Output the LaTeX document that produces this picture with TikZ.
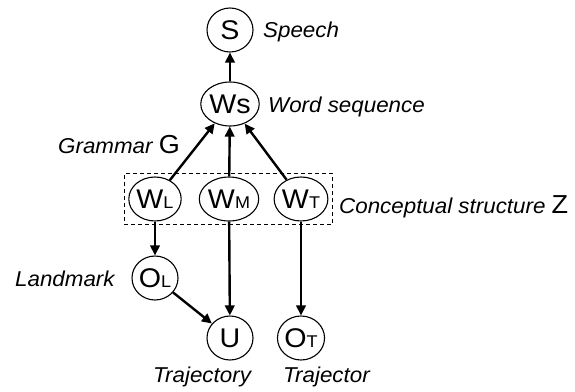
\documentclass[tikz,border=0pt]{standalone}
\usepackage{fontspec}
\setmainfont{Liberation Sans}
\newfontfamily\labfont[FakeStretch=1.04]{Liberation Sans}
\newfontfamily\ndfont[FakeStretch=1.06]{Liberation Sans}
\usetikzlibrary{shapes.geometric,arrows.meta,fit}
\newcommand\smallsub[1]{{\fontsize{17}{17}\selectfont #1}}
\tikzset{
  nd/.style={draw, line width=1.1pt, ellipse, minimum width=46pt, minimum height=44pt, inner sep=0pt,
    font=\ndfont\fontsize{27}{27}\selectfont},
  lbl/.style={anchor=base west, inner sep=0pt, font=\labfont\itshape\fontsize{21.5}{21.5}\selectfont},
  arr/.style={line width=2.4pt, -{Triangle[length=10pt,width=9.5pt]}},
  box/.style={draw, dashed, line width=1pt, dash pattern=on 4pt off 3pt, inner xsep=4pt, inner ysep=3pt},
}
\begin{document}
\begin{tikzpicture}[x=1pt,y=-1pt]
\useasboundingbox (0,0) rectangle (575,391);
\node[nd] (S)  at (230,30)  {S};
\node[nd] (Ws) at (230,104) {Ws};
\node[nd] (WL) at (155,199) {W\smallsub{L}};
\node[nd] (WM) at (229,199) {W\smallsub{M}};
\node[nd] (WT) at (301,199) {W\smallsub{T}};
\node[nd] (OL) at (155,278) {O\smallsub{L}};
\node[nd] (U)  at (230,338) {U};
\node[nd] (OT) at (301,338) {O\smallsub{T}};
\node[box, fit=(WL)(WT)] (Z) {};

\draw[arr] (Ws) -- (S);
\draw[arr] (WL) -- (Ws);
\draw[arr] (WM) -- (Ws);
\draw[arr] (WT) -- (Ws);
\draw[arr] (WL) -- (OL);
\draw[arr] (WM) -- (U);
\draw[arr] (OL) -- (U);
\draw[arr] (WT) -- (OT);

\node[lbl] (lS)  at (263,37)  {Speech};
\node[lbl] (lWs) at (268,112) {Word sequence};
\node[lbl] (lG)  at (58,153)  {Grammar {\upshape\fontsize{26}{26}\selectfont G}};
\node[lbl] (lZ)  at (339,213) {Conceptual structure {\upshape\fontsize{26}{26}\selectfont Z}};
\node[lbl] (lL)  at (15,286)  {Landmark};
\node[lbl] (lU)  at (153,382) {Trajectory};
\node[lbl] (lT)  at (283,382) {Trajector};
\end{tikzpicture}
\end{document}
